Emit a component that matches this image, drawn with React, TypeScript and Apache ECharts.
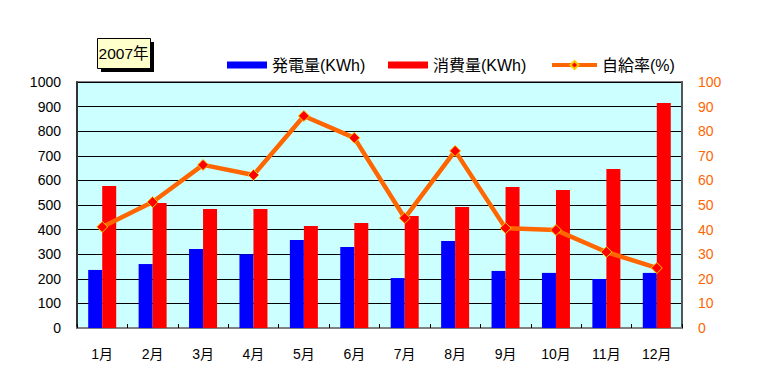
import React, { useEffect, useRef } from "react";
import * as echarts from "echarts";

const months = ["1月", "2月", "3月", "4月", "5月", "6月", "7月", "8月", "9月", "10月", "11月", "12月"];
const generation = [236, 260, 321, 300, 358, 329, 203, 354, 232, 224, 199, 224];
const consumption = [577, 508, 484, 484, 415, 427, 455, 492, 573, 561, 646, 915];
const selfRate = [41.1, 51.2, 66.3, 62.2, 86.2, 77.3, 44.7, 72.0, 40.6, 39.8, 30.9, 24.4];
const titleText = "2007年";

const FONT = "'Liberation Sans', 'Noto Sans CJK JP', sans-serif";

export default function App() {
  const ref = useRef<HTMLDivElement>(null);
  useEffect(() => {
    if (!ref.current) return;
    const chart = echarts.init(ref.current, undefined, { renderer: "svg" });
    const legendText = { fontFamily: FONT, fontSize: 16, color: "#000" };
    chart.setOption({
      animation: false,
      backgroundColor: "#ffffff",
      textStyle: { fontFamily: FONT },
      grid: {
        left: 77,
        right: 87,
        top: 82,
        bottom: 46,
        show: true,
        backgroundColor: "#ccffff",
        borderColor: "#808080",
        borderWidth: 2,
      },
      legend: [
        {
          left: 222,
          top: 52,
          itemWidth: 40,
          itemHeight: 7,
          itemGap: 4,
          textStyle: legendText,
          data: [{ name: "発電量(KWh)", icon: "rect" }],
        },
        {
          left: 383,
          top: 52,
          itemWidth: 40,
          itemHeight: 7,
          itemGap: 4,
          textStyle: legendText,
          data: [{ name: "消費量(KWh)", icon: "rect" }],
        },
        {
          left: 545,
          top: 52,
          itemWidth: 45,
          itemHeight: 10,
          itemGap: 2,
          textStyle: legendText,
          lineStyle: { width: 4, color: "#ff6600" },
          data: [{ name: "自給率(%)" }],
        },
      ],
      xAxis: {
        type: "category",
        data: months,
        axisLine: { show: true, lineStyle: { color: "#808080", width: 2 } },
        axisTick: { show: true, inside: true, length: 4, lineStyle: { color: "#000" } },
        axisLabel: { color: "#000", fontSize: 14, margin: 19, fontFamily: FONT },
      },
      yAxis: [
        {
          type: "value",
          min: 0,
          max: 1000,
          interval: 100,
          axisLine: { show: true, lineStyle: { color: "#333", width: 2 } },
          axisTick: { show: false },
          splitLine: { show: true, lineStyle: { color: "#000", width: 1 } },
          axisLabel: {
            color: "#000",
            fontSize: 14,
            margin: 16,
            fontFamily: FONT,
            formatter: (v: number) => String(v),
          },
        },
        {
          type: "value",
          min: 0,
          max: 100,
          interval: 10,
          position: "right",
          axisLine: { show: true, lineStyle: { color: "#555", width: 2 } },
          axisTick: { show: false },
          splitLine: { show: false },
          axisLabel: { color: "#ff6600", fontSize: 14, margin: 16, fontFamily: FONT },
        },
      ],
      series: [
        {
          name: "発電量(KWh)",
          type: "bar",
          data: generation,
          barWidth: 14,
          barGap: "0%",
          itemStyle: { color: "#0000ff" },
        },
        {
          name: "消費量(KWh)",
          type: "bar",
          data: consumption,
          barWidth: 14,
          barGap: "0%",
          itemStyle: { color: "#ff0000" },
        },
        {
          name: "自給率(%)",
          type: "line",
          yAxisIndex: 1,
          data: selfRate,
          symbol: "diamond",
          symbolSize: 11,
          lineStyle: { color: "#ff6600", width: 4.5 },
          itemStyle: { color: "#ff0000", borderColor: "#ffcc00", borderWidth: 1 },
          z: 5,
        },
      ],
      graphic: [
        {
          type: "rect",
          left: 101,
          top: 42,
          shape: { width: 53, height: 30 },
          style: { fill: "#000" },
          z: 10,
        },
        {
          type: "rect",
          left: 97,
          top: 38,
          shape: { width: 53, height: 30 },
          style: { fill: "#ffffcc", stroke: "#000", lineWidth: 1 },
          z: 11,
        },
        {
          type: "text",
          x: 123.5,
          y: 53,
          style: {
            text: titleText,
            fontSize: 15.5,
            fontFamily: FONT,
            fill: "#000",
            align: "center",
            verticalAlign: "middle",
          },
          z: 12,
        },
      ],
    });
    return () => chart.dispose();
  }, []);
  return (
    <div
      ref={ref}
      style={{ position: "fixed", left: 0, top: 0, width: 769, height: 374 }}
    />
  );
}
